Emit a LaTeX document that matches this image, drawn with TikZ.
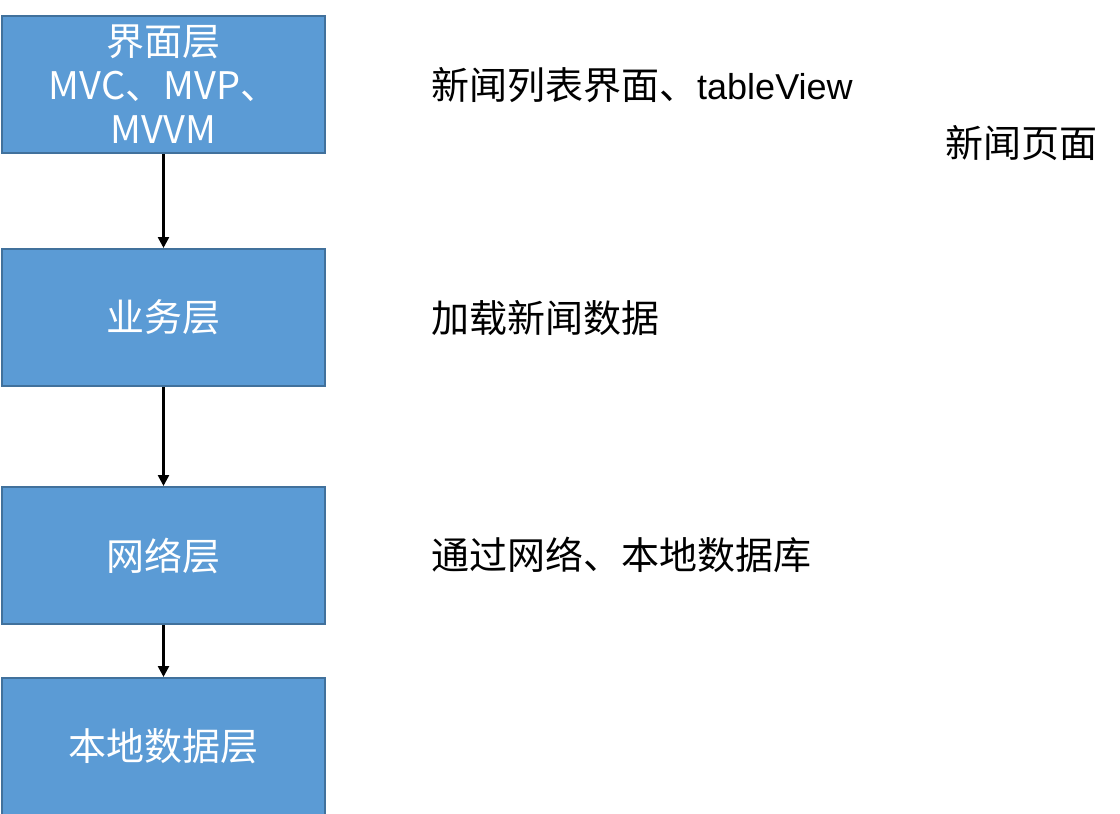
\documentclass[tikz,border=0pt]{standalone}
\usepackage{fontspec}
\setmainfont{Noto Sans CJK SC}
\newfontfamily\arialf{Liberation Sans}
\usetikzlibrary{arrows.meta}
\definecolor{boxfill}{HTML}{5B9BD5}
\definecolor{boxline}{HTML}{41719C}
\begin{document}
\begin{tikzpicture}[x=1pt,y=-1pt,
  layer/.style={draw=boxline,line width=2pt,fill=boxfill,text=white,minimum width=323pt,minimum height=137pt,inner sep=0pt,anchor=north west,font=\fontsize{38}{44}\selectfont,align=center},
  conn/.style={-{Triangle[length=11pt,width=11pt]},line width=2.5pt,black},
  note/.style={anchor=west,inner sep=0pt,font=\fontsize{38}{44}\selectfont}]
\useasboundingbox (0,0) rectangle (1120,814);
\node[layer,font=\fontsize{38}{44}\selectfont] (ui) at (1,15) {界面层\\{\fontsize{38}{44}\selectfont MVC、MVP、}\\{\fontsize{38}{44}\selectfont MVVM}};
\node[layer] (biz) at (1,248) {业务层};
\node[layer] (net) at (1,486) {网络层};
\node[layer] (db) at (1,677) {本地数据层};
\draw[conn] (ui.south) -- (biz.north);
\draw[conn] (biz.south) -- (net.north);
\draw[conn] (net.south) -- (db.north);
\node[note] (n1) at (431,85) {新闻列表界面、{\arialf\fontsize{36}{44}\selectfont tableView}};
\node[note] (n2) at (945,143) {新闻页面};
\node[note] (n3) at (431,318) {加载新闻数据};
\node[note] (n4) at (431,555) {通过网络、本地数据库};
\end{tikzpicture}
\end{document}
